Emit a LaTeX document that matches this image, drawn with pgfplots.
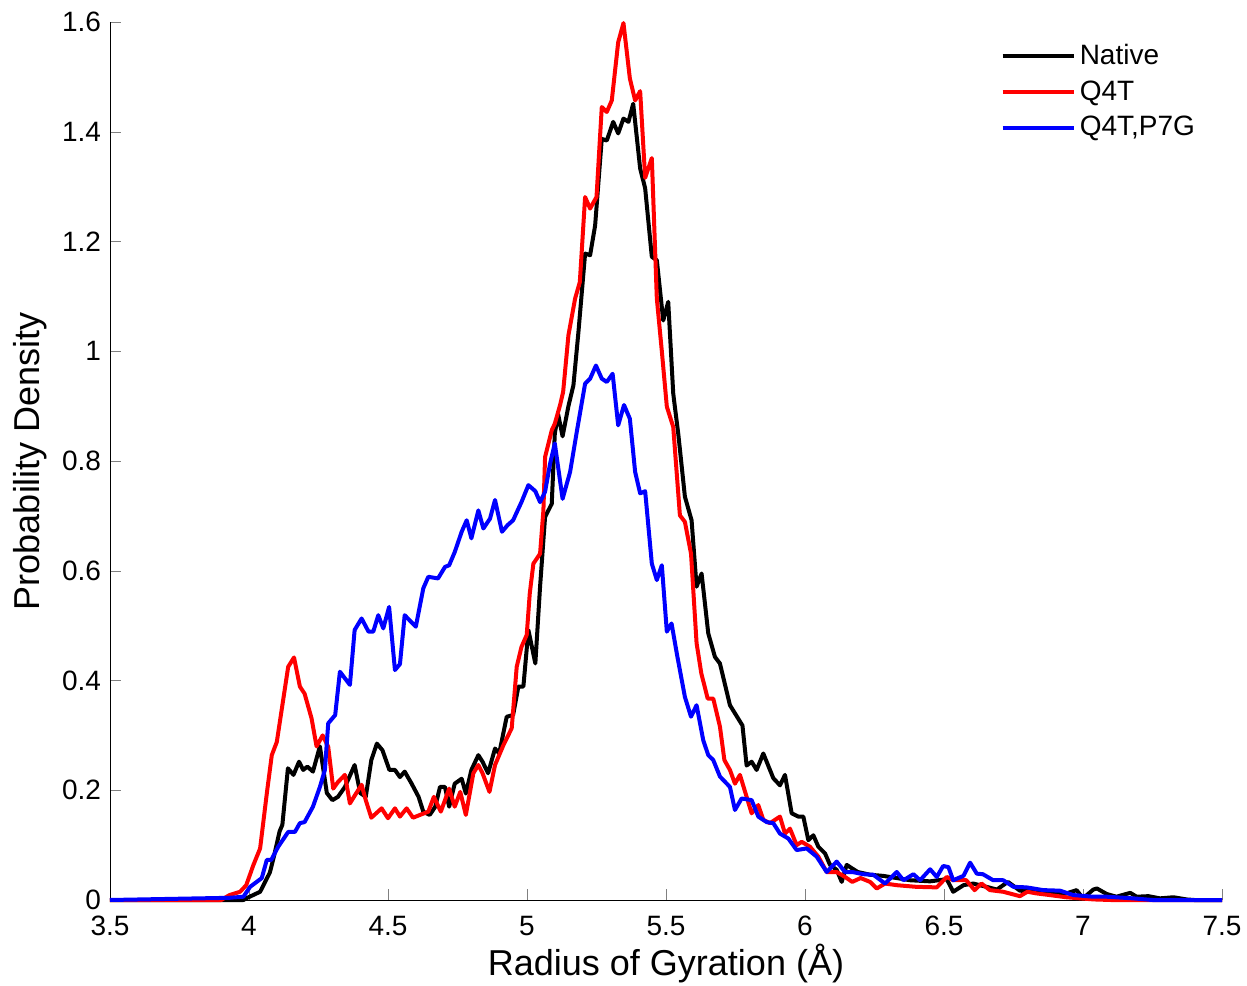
\documentclass[border=0pt]{standalone}
\usepackage{pgfplots}
\pgfplotsset{compat=1.18}
\usepackage{fontspec}
\setmainfont{Liberation Sans}
\begin{document}
\begin{tikzpicture}
\useasboundingbox (-55pt,-42.5pt) rectangle (568.5pt,450pt);
\begin{axis}[
  at={(0,0)}, anchor=south west,
  scale only axis, width=556pt, height=439pt,
  xmin=3.5, xmax=7.5, ymin=0, ymax=1.6,
  axis x line*=bottom, axis y line*=left,
  xtick={3.5,4,4.5,5,5.5,6,6.5,7,7.5},
  ytick={0,0.2,0.4,0.6,0.8,1,1.2,1.4,1.6},
  tick align=inside, major tick length=5.5pt,
  /pgf/number format/assume math mode=true,
  tick label style={font=\fontsize{14}{16}\selectfont},
  xticklabel style={yshift=-4.5pt},
  yticklabel style={xshift=-1pt},
  xlabel={Radius of Gyration (Å)}, ylabel={Probability Density},
  label style={font=\fontsize{18}{20}\selectfont},
  xlabel style={at={(axis description cs:0.5,-0.072)}, anchor=center},
  ylabel style={at={(axis description cs:-0.072,0.5)}, anchor=center},
  clip=false,
  legend style={at={(0.985,0.984)}, anchor=north east, draw=none, fill=none,
    font=\fontsize{14}{16}\selectfont, row sep=2.5pt},
  legend cell align=left,
  legend image code/.code={\draw[#1] (0cm,0cm) -- (1.25cm,0cm);},
  every axis plot/.append style={line width=2pt, line join=round},
]
\addplot[black] coordinates {
(3.5,0) (3.98,0) (3.99,0.003) (4.04,0.015) (4.075,0.05) (4.09,0.08) (4.11,0.125) (4.12,0.137) (4.14,0.24) (4.16,0.228) (4.18,0.252) (4.195,0.237) (4.21,0.243) (4.23,0.234) (4.255,0.28) (4.28,0.195) (4.30,0.182) (4.32,0.188) (4.345,0.206) (4.38,0.246) (4.40,0.195) (4.42,0.188) (4.44,0.255) (4.46,0.285) (4.48,0.273) (4.505,0.237) (4.525,0.237) (4.543,0.224) (4.56,0.234) (4.585,0.212) (4.61,0.188) (4.627,0.161) (4.65,0.155) (4.67,0.17) (4.687,0.206) (4.705,0.206) (4.72,0.17) (4.74,0.212) (4.765,0.221) (4.78,0.194) (4.80,0.237) (4.825,0.264) (4.84,0.252) (4.86,0.231) (4.885,0.276) (4.90,0.267) (4.927,0.334) (4.95,0.337) (4.969,0.389) (4.987,0.389) (5.005,0.492) (5.03,0.431) (5.047,0.571) (5.065,0.698) (5.089,0.722) (5.10,0.85) (5.112,0.885) (5.128,0.845) (5.149,0.9) (5.167,0.938) (5.185,1.035) (5.209,1.178) (5.227,1.175) (5.245,1.229) (5.269,1.387) (5.287,1.384) (5.31,1.418) (5.328,1.397) (5.347,1.424) (5.365,1.418) (5.382,1.451) (5.407,1.333) (5.425,1.297) (5.449,1.172) (5.467,1.166) (5.49,1.056) (5.508,1.09) (5.526,0.923) (5.544,0.85) (5.568,0.735) (5.592,0.692) (5.61,0.571) (5.628,0.595) (5.652,0.486) (5.676,0.443) (5.694,0.431) (5.73,0.355) (5.775,0.318) (5.79,0.245) (5.808,0.252) (5.826,0.237) (5.85,0.267) (5.886,0.222) (5.91,0.209) (5.928,0.228) (5.952,0.158) (5.976,0.152) (5.994,0.152) (6.012,0.109) (6.03,0.118) (6.048,0.097) (6.072,0.085) (6.09,0.064) (6.114,0.055) (6.132,0.033) (6.15,0.064) (6.168,0.058) (6.19,0.051) (6.234,0.046) (6.28,0.044) (6.33,0.04) (6.378,0.036) (6.45,0.034) (6.51,0.038) (6.533,0.015) (6.57,0.027) (6.605,0.03) (6.653,0.024) (6.69,0.019) (6.73,0.033) (6.773,0.017) (6.833,0.015) (6.893,0.013) (6.94,0.012) (6.977,0.018) (7.0,0.003) (7.037,0.019) (7.05,0.021) (7.085,0.011) (7.12,0.006) (7.17,0.013) (7.193,0.006) (7.235,0.007) (7.277,0.003) (7.325,0.005) (7.373,0.001) (7.4,0) (7.5,0)
};
\addlegendentry{Native}
\addplot[red] coordinates {
(3.5,0) (3.9,0) (3.93,0.009) (3.968,0.015) (3.99,0.027) (4.016,0.064) (4.04,0.094) (4.064,0.194) (4.082,0.264) (4.10,0.288) (4.141,0.425) (4.162,0.442) (4.183,0.389) (4.20,0.376) (4.225,0.331) (4.243,0.28) (4.265,0.30) (4.285,0.279) (4.303,0.203) (4.32,0.215) (4.345,0.228) (4.363,0.176) (4.38,0.19) (4.405,0.21) (4.42,0.182) (4.44,0.15) (4.477,0.167) (4.50,0.149) (4.525,0.167) (4.543,0.152) (4.567,0.167) (4.59,0.15) (4.615,0.155) (4.645,0.161) (4.665,0.188) (4.69,0.161) (4.72,0.203) (4.74,0.17) (4.76,0.197) (4.78,0.155) (4.807,0.231) (4.825,0.246) (4.84,0.231) (4.865,0.197) (4.885,0.246) (4.915,0.282) (4.945,0.313) (4.963,0.425) (4.98,0.461) (4.999,0.483) (5.01,0.559) (5.023,0.613) (5.047,0.631) (5.059,0.71) (5.065,0.807) (5.089,0.856) (5.10,0.868) (5.119,0.902) (5.13,0.926) (5.149,1.029) (5.173,1.096) (5.19,1.126) (5.209,1.281) (5.227,1.26) (5.25,1.281) (5.269,1.445) (5.287,1.436) (5.305,1.457) (5.328,1.563) (5.347,1.598) (5.37,1.497) (5.389,1.457) (5.407,1.474) (5.425,1.316) (5.449,1.352) (5.467,1.096) (5.485,1.0) (5.503,0.899) (5.526,0.862) (5.55,0.701) (5.568,0.689) (5.59,0.631) (5.61,0.468) (5.627,0.413) (5.65,0.367) (5.67,0.367) (5.694,0.316) (5.71,0.255) (5.73,0.237) (5.748,0.212) (5.766,0.228) (5.79,0.188) (5.808,0.158) (5.832,0.173) (5.85,0.146) (5.874,0.14) (5.91,0.152) (5.928,0.121) (5.946,0.13) (5.97,0.10) (5.988,0.106) (6.018,0.097) (6.048,0.079) (6.078,0.051) (6.114,0.051) (6.144,0.042) (6.17,0.033) (6.20,0.04) (6.234,0.033) (6.258,0.021) (6.288,0.03) (6.33,0.027) (6.40,0.024) (6.474,0.023) (6.51,0.042) (6.533,0.036) (6.58,0.036) (6.61,0.018) (6.635,0.03) (6.665,0.018) (6.713,0.015) (6.773,0.007) (6.80,0.015) (6.833,0.012) (6.88,0.009) (6.94,0.005) (7.04,0.001) (7.1,0) (7.5,0)
};
\addlegendentry{Q4T}
\addplot[blue] coordinates {
(3.5,0) (3.93,0.004) (3.98,0.006) (4.004,0.024) (4.046,0.04) (4.064,0.073) (4.08,0.073) (4.105,0.097) (4.141,0.124) (4.165,0.124) (4.183,0.14) (4.20,0.142) (4.23,0.17) (4.255,0.206) (4.273,0.237) (4.285,0.322) (4.31,0.337) (4.327,0.416) (4.363,0.392) (4.38,0.492) (4.405,0.513) (4.43,0.489) (4.447,0.489) (4.465,0.519) (4.483,0.495) (4.504,0.534) (4.525,0.419) (4.543,0.43) (4.56,0.519) (4.60,0.498) (4.627,0.568) (4.645,0.589) (4.68,0.586) (4.705,0.607) (4.72,0.61) (4.74,0.634) (4.765,0.671) (4.783,0.692) (4.80,0.659) (4.825,0.71) (4.843,0.677) (4.867,0.695) (4.885,0.729) (4.91,0.671) (4.93,0.683) (4.95,0.692) (4.98,0.725) (5.005,0.756) (5.03,0.745) (5.047,0.725) (5.065,0.744) (5.083,0.795) (5.10,0.832) (5.128,0.731) (5.155,0.78) (5.179,0.853) (5.209,0.941) (5.227,0.95) (5.248,0.974) (5.269,0.95) (5.287,0.944) (5.308,0.959) (5.328,0.865) (5.349,0.902) (5.37,0.877) (5.389,0.78) (5.407,0.741) (5.425,0.745) (5.449,0.613) (5.467,0.583) (5.485,0.61) (5.503,0.489) (5.52,0.504) (5.54,0.446) (5.568,0.37) (5.59,0.334) (5.61,0.355) (5.634,0.291) (5.652,0.264) (5.67,0.255) (5.694,0.225) (5.73,0.206) (5.748,0.164) (5.772,0.185) (5.808,0.182) (5.832,0.152) (5.862,0.142) (5.886,0.14) (5.91,0.121) (5.94,0.112) (5.97,0.091) (6.006,0.094) (6.042,0.079) (6.078,0.051) (6.114,0.07) (6.144,0.051) (6.17,0.051) (6.21,0.047) (6.246,0.046) (6.288,0.03) (6.33,0.051) (6.354,0.036) (6.39,0.047) (6.414,0.036) (6.45,0.056) (6.474,0.042) (6.497,0.062) (6.516,0.06) (6.533,0.036) (6.57,0.044) (6.594,0.068) (6.618,0.048) (6.64,0.047) (6.677,0.036) (6.713,0.036) (6.75,0.024) (6.797,0.023) (6.857,0.018) (6.917,0.017) (6.965,0.009) (7.037,0.006) (7.085,0.006) (7.18,0.003) (7.25,0) (7.5,0)
};
\addlegendentry{Q4T,P7G}
\end{axis}
\end{tikzpicture}
\end{document}
